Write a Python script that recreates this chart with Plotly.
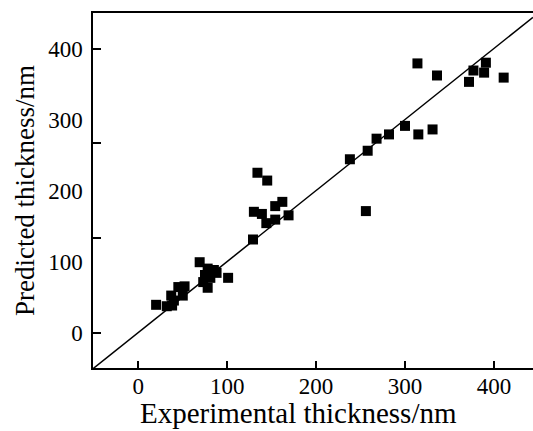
import plotly.graph_objects as go

# Experimental vs predicted thickness (nm)
experimental = [20, 32, 38, 40, 37, 45, 52, 50, 69, 78, 85, 75, 81, 73, 78, 88, 101,
                129, 130, 139, 144, 154, 154, 162, 169, 134, 145,
                238, 256, 258, 268, 282, 300, 315, 331,
                314, 336, 372, 377, 389, 391, 411]
predicted = [39, 37, 38, 45, 52, 64, 65, 52, 99, 90, 88, 81, 77, 71, 63, 84, 77,
             131, 170, 167, 154, 159, 178, 184, 165, 225, 214,
             244, 171, 256, 273, 279, 291, 279, 286,
             379, 362, 353, 369, 366, 380, 359]

x_range = [-51, 444]
y_range = [-50, 450]
tick_vals = [0, 100, 200, 300, 400]
tick_text = ["0", "100", "200", "300", "400"]
y_minor_ticks = [0, 133.33, 266.67, 400]
x_title = "Experimental thickness/nm"
y_title = "Predicted thickness/nm"

FONT = "Liberation Serif"
TICK_SIZE = 23

fig = go.Figure()
fig.add_trace(go.Scatter(x=x_range, y=x_range, mode="lines",
                         line=dict(color="black", width=1.5),
                         showlegend=False, hoverinfo="skip"))
fig.add_trace(go.Scatter(x=experimental, y=predicted, mode="markers",
                         marker=dict(symbol="square", size=10, color="black",
                                     line=dict(width=0)),
                         showlegend=False))
fig.add_trace(go.Scatter(x=[None], y=[None], yaxis="y2", showlegend=False,
                         hoverinfo="skip"))

fig.update_layout(
    width=533, height=431,
    margin=dict(l=93, r=0, t=13, b=63),
    paper_bgcolor="white", plot_bgcolor="white",
    font=dict(family=FONT, size=TICK_SIZE, color="black"),
    xaxis=dict(range=x_range, tickvals=tick_vals, ticktext=tick_text,
               automargin=False,
               ticks="inside", ticklen=7, tickwidth=1.5, tickcolor="black",
               showline=True, linecolor="black", linewidth=1.5, mirror=True,
               showgrid=False, zeroline=False,
               ticklabelstandoff=-3,
               tickfont=dict(family=FONT, size=TICK_SIZE)),
    yaxis=dict(range=y_range, tickvals=tick_vals, ticktext=tick_text,
               automargin=False,
               ticks="", showline=True, linecolor="black", linewidth=1.5,
               mirror=False, showgrid=False, zeroline=False,
               ticklabelstandoff=4,
               title=dict(text=y_title, standoff=6,
                          font=dict(family=FONT, size=27)),
               tickfont=dict(family=FONT, size=TICK_SIZE)),
    yaxis2=dict(range=y_range, overlaying="y", side="left", automargin=False,
                tickvals=y_minor_ticks, ticks="inside", ticklen=8,
                tickwidth=1.5, tickcolor="black", showticklabels=False,
                showline=False, showgrid=False, zeroline=False),
    annotations=[dict(text=x_title, xref="paper", yref="paper",
                      x=0.468, y=-0.127, xanchor="center", yanchor="middle",
                      showarrow=False, font=dict(family=FONT, size=29))],
)

fig.write_html("out.html",
               config={"displayModeBar": False},
               post_script="document.body.style.margin='0';"
                           "document.body.style.overflow='hidden';")
